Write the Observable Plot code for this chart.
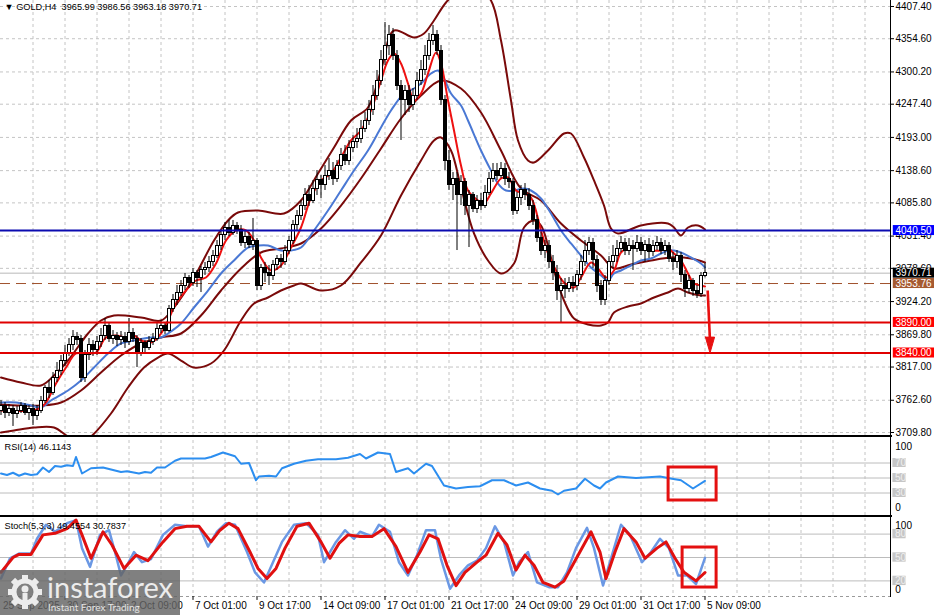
<!DOCTYPE html>
<html><head><meta charset="utf-8">
<script src="https://cdn.jsdelivr.net/npm/d3@7"></script>
<script src="https://cdn.jsdelivr.net/npm/@observablehq/plot@0.6"></script>
<style>
body{margin:0;background:#fff;}
#wrap{position:relative;width:939px;height:615px;overflow:hidden;background:#fff;font-family:"Liberation Sans",Arial,sans-serif;}
#wrap svg.p{position:absolute;left:0;}
svg text{white-space:pre;}
.sep{position:absolute;left:0;width:892px;height:2px;background:#000;}
#axisline{position:absolute;left:890px;top:0;width:1px;height:597px;background:#000;}
#wm{position:absolute;left:0;top:570px;width:180px;height:45px;background:rgba(100,100,100,0.82);}
#wm .t1{position:absolute;left:47px;top:-1px;font-family:Lato,"Open Sans",sans-serif;font-size:29px;color:#ececec;}
#wm .t2{position:absolute;left:48px;top:31px;font-family:Lato,"Open Sans",sans-serif;font-size:10px;color:#e4e4e4;}
#wm svg{position:absolute;left:7px;top:4px;}
</style></head>
<body><div id="wrap"></div>
<script>
// ---------------- DATA ----------------
const header = "GOLD,H4  3965.99 3986.56 3963.18 3970.71";
const candleOpen = [
3745.8,3754.0,3742.5,3749.1,3739.3,3745.8,3752.4,3742.5,3749.1,3737.6,
3745.8,3762.2,3781.9,3775.3,3798.3,3811.3,3827.7,3840.8,3852.3,3867.0,
3863.7,3798.3,3835.9,3852.3,3844.1,3857.2,3868.6,3885.0,3863.7,3868.6,
3860.5,3867.0,3857.2,3873.5,3863.7,3840.8,3855.6,3847.4,3858.8,3863.7,
3880.1,3885.0,3876.8,3912.8,3926.0,3939.0,3950.5,3962.0,3955.4,3971.8,
3962.0,3975.1,3978.4,3988.2,3999.6,4016.0,4032.4,4043.9,4037.3,4047.2,
4040.6,4020.9,4030.7,4017.6,4024.2,3950.5,3978.4,3971.8,3965.3,3983.3,
3994.7,3988.2,4007.8,4024.2,4048.8,4065.1,4081.5,4097.9,4089.7,4109.3,
4122.5,4114.3,4130.6,4138.8,4125.7,4147.0,4163.4,4155.2,4174.9,4184.7,
4191.2,4207.6,4220.7,4237.1,4261.6,4286.2,4319.0,4343.5,4359.9,4327.1,
4278.0,4253.5,4269.8,4245.3,4261.6,4286.2,4302.6,4327.1,4351.7,4359.9,
4335.3,4253.5,4155.2,4114.3,4125.7,4097.9,4119.2,4081.5,4097.9,4076.6,
4089.7,4081.5,4102.8,4125.7,4138.8,4130.6,4142.1,4125.7,4119.2,4073.3,
4093.0,4106.1,4097.9,4081.5,4057.0,4027.5,4007.8,4016.0,3988.2,3971.8,
3942.3,3950.5,3945.6,3955.4,3948.9,3966.9,3988.2,4007.8,4020.9,3991.5,
3950.5,3926.0,3958.7,3988.2,3999.6,4011.1,4020.9,4007.8,4016.0,4011.1,
4020.9,4007.8,4017.6,4004.6,4014.4,4020.9,4007.8,4014.4,3994.7,3988.2,
3999.6,3966.9,3945.6,3958.7,3942.3,3935.8,3965.99];
const candleHigh = [
3762.2,3758.9,3755.7,3754.0,3752.4,3758.9,3757.3,3754.0,3755.7,3754.0,
3768.8,3786.8,3795.0,3808.0,3824.4,3835.9,3852.3,3863.7,3876.8,3873.5,
3868.6,3844.1,3863.7,3860.5,3867.0,3880.1,3896.5,3889.9,3876.8,3873.5,
3875.2,3873.5,3896.5,3880.1,3868.6,3863.7,3860.5,3867.0,3872.0,3888.3,
3893.2,3889.9,3917.8,3935.8,3950.5,3958.7,3970.2,3966.9,3978.4,3975.1,
3981.6,3988.2,3998.0,4007.8,4024.2,4040.6,4053.7,4057.0,4057.0,4053.7,
4048.8,4040.6,4037.3,4060.3,4027.5,3985.0,3988.2,3983.3,3991.5,3999.6,
4001.3,4016.0,4030.7,4057.0,4073.3,4089.7,4109.3,4114.3,4122.5,4138.8,
4130.6,4147.0,4158.5,4151.9,4155.2,4174.9,4179.8,4188.0,4196.1,4207.6,
4220.7,4233.8,4253.5,4278.0,4302.6,4335.3,4381.2,4376.3,4371.4,4335.3,
4286.2,4278.0,4278.0,4273.1,4299.3,4319.0,4343.5,4363.2,4376.3,4368.1,
4343.5,4261.6,4171.6,4135.5,4135.5,4130.6,4125.7,4106.1,4102.8,4097.9,
4101.2,4114.3,4135.5,4150.3,4150.3,4151.9,4150.3,4135.5,4125.7,4102.8,
4114.3,4117.5,4109.3,4089.7,4065.1,4037.3,4024.2,4024.2,3999.6,3983.3,
3962.0,3962.0,3963.6,3965.3,3975.1,3999.6,4024.2,4029.1,4027.5,3999.6,
3958.7,3966.9,3998.0,4016.0,4024.2,4030.7,4027.5,4027.5,4024.2,4032.4,
4029.1,4024.2,4027.5,4024.2,4030.7,4027.5,4024.2,4020.9,4004.6,4007.8,
4004.6,3975.1,3966.9,3962.0,3950.5,3971.8,3986.56];
const candleLow = [
3737.6,3732.7,3736.0,3719.7,3732.7,3740.9,3737.6,3729.5,3721.3,3729.5,
3740.9,3757.3,3765.5,3770.4,3791.7,3803.1,3817.9,3834.3,3844.1,3852.3,
3791.7,3791.7,3827.7,3834.3,3835.9,3849.0,3860.5,3857.2,3854.0,3850.6,
3852.3,3847.4,3852.3,3857.2,3816.2,3834.3,3840.8,3844.1,3852.3,3858.8,
3871.9,3870.3,3873.5,3906.3,3917.8,3932.5,3942.3,3945.6,3948.9,3947.2,
3939.0,3966.9,3971.8,3981.6,3994.7,4007.8,4024.2,4030.7,4032.4,4034.0,
4014.4,4011.1,4011.1,4007.8,3942.3,3942.3,3955.4,3950.5,3958.7,3975.1,
3978.4,3983.3,4001.3,4017.6,4040.6,4057.0,4073.3,4079.9,4084.8,4097.9,
4093.0,4106.1,4122.5,4114.3,4119.2,4138.8,4147.0,4147.0,4168.3,4174.9,
4183.0,4201.0,4212.5,4228.9,4253.5,4278.0,4310.8,4327.1,4319.0,4269.8,
4188.0,4228.9,4233.8,4237.1,4253.5,4278.0,4294.4,4319.0,4343.5,4327.1,
4245.3,4138.8,4106.1,4089.7,4007.8,4081.5,4065.1,4012.7,4070.0,4068.4,
4073.3,4076.6,4097.9,4119.2,4122.5,4125.7,4114.3,4109.3,4065.1,4066.8,
4081.5,4089.7,4073.3,4048.8,4020.9,3999.6,3994.7,3978.4,3958.7,3926.0,
3889.9,3929.2,3939.0,3939.0,3942.3,3958.7,3981.6,3999.6,3978.4,3939.0,
3917.8,3917.8,3950.5,3978.4,3988.2,4004.6,3999.6,3999.6,3975.1,4004.6,
3999.6,3988.2,3994.7,3998.0,4007.8,4001.3,3999.6,3988.2,3975.1,3978.4,
3955.4,3930.9,3937.4,3932.5,3929.2,3930.9,3963.18];
const candleClose = [
3754.0,3742.5,3749.1,3739.3,3745.8,3752.4,3742.5,3749.1,3737.6,3745.8,
3762.2,3781.9,3775.3,3798.3,3811.3,3827.7,3840.8,3852.3,3867.0,3860.5,
3798.3,3835.9,3852.3,3844.1,3857.2,3868.6,3885.0,3863.7,3868.6,3860.5,
3867.0,3857.2,3873.5,3863.7,3840.8,3855.6,3847.4,3858.8,3863.7,3880.1,
3885.0,3876.8,3912.8,3926.0,3939.0,3950.5,3962.0,3955.4,3971.8,3962.0,
3975.1,3978.4,3988.2,3999.6,4016.0,4032.4,4043.9,4037.3,4047.2,4040.6,
4020.9,4030.7,4017.6,4024.2,3950.5,3978.4,3971.8,3965.3,3983.3,3994.7,
3988.2,4007.8,4024.2,4048.8,4065.1,4081.5,4097.9,4089.7,4109.3,4122.5,
4114.3,4130.6,4138.8,4125.7,4147.0,4163.4,4155.2,4174.9,4184.7,4191.2,
4207.6,4220.7,4237.1,4261.6,4286.2,4319.0,4343.5,4359.9,4327.1,4278.0,
4253.5,4269.8,4245.3,4261.6,4286.2,4302.6,4327.1,4351.7,4359.9,4335.3,
4253.5,4155.2,4114.3,4125.7,4097.9,4119.2,4081.5,4097.9,4076.6,4089.7,
4081.5,4102.8,4125.7,4138.8,4130.6,4142.1,4125.7,4119.2,4073.3,4093.0,
4106.1,4097.9,4081.5,4057.0,4027.5,4007.8,4016.0,3988.2,3971.8,3942.3,
3950.5,3945.6,3955.4,3948.9,3966.9,3988.2,4007.8,4020.9,3991.5,3950.5,
3926.0,3958.7,3988.2,3999.6,4011.1,4020.9,4007.8,4016.0,4011.1,4020.9,
4007.8,4017.6,4004.6,4014.4,4020.9,4007.8,4014.4,3994.7,3988.2,3999.6,
3966.9,3945.6,3958.7,3942.3,3935.8,3965.3,3970.71];

const maFast = [[0,3745.8],[7.5,3745.8],[10,3750.7],[11.25,3758.9],[13.75,3790.0],[16.25,3816.2],[18.75,3839.2],[21.25,3839.2],[23.75,3840.8],[26.25,3865.4],[28.75,3868.6],[31.25,3865.4],[33.25,3868.6],[35,3860.5],[37.5,3857.2],[40,3871.9],[41.75,3893.2],[43.75,3921.0],[46.25,3942.3],[48.75,3958.7],[51.25,3963.6],[53.75,3986.5],[56.25,4024.2],[58.75,4040.6],[61.25,4040.6],[63.25,4024.2],[65,3996.4],[67.5,3975.1],[70,3983.3],[72.5,4012.7],[75,4045.5],[77.5,4094.6],[80,4122.5],[82.5,4133.9],[85,4160.1],[87.5,4188.0],[90,4204.3],[92.5,4237.1],[95,4286.2],[96.75,4319.0],[98.25,4330.4],[100,4314.0],[101.75,4281.3],[103.25,4253.5],[105,4264.9],[106.75,4297.7],[108.75,4332.0],[110,4314.0],[111.75,4253.5],[113.25,4204.3],[115,4147.0],[116.75,4106.1],[119.25,4089.7],[120.75,4084.8],[122.5,4101.2],[125,4125.7],[126.75,4127.4],[128.75,4106.1],[130.75,4101.2],[132.5,4094.6],[135,4040.6],[136.75,4002.9],[138.75,3975.1],[140.75,3955.4],[143.25,3947.2],[145,3963.6],[147.5,3988.2],[149.25,3978.4],[151.25,3963.6],[153.25,3975.1],[155,4004.6],[157.5,4012.7],[160,4011.1],[162.5,4007.8],[165,4007.8],[166.75,4011.1],[168.25,4002.9],[170,3991.5],[171.75,3970.2],[173.25,3953.8],[175,3950.5],[176,3948.9]];
const maSlow = [[0,3758.9],[3.75,3758.9],[7.5,3754.0],[10,3750.7],[12.5,3762.2],[16.75,3778.6],[20,3795.0],[23.25,3816.2],[26.75,3839.2],[30,3855.6],[33.25,3860.5],[37.5,3865.4],[40,3865.4],[41.75,3871.9],[45,3888.3],[48.25,3914.5],[51.75,3942.3],[55,3970.2],[58.25,3991.5],[61.75,4012.7],[64.25,4016.0],[66.75,4016.0],[70,4007.8],[72.5,4007.8],[75,4012.7],[78.25,4040.6],[81.75,4073.3],[85,4106.1],[88.25,4138.8],[91.75,4171.6],[95,4209.2],[97.5,4237.1],[100.75,4264.9],[103.25,4273.1],[105,4281.3],[107.5,4297.7],[109.25,4302.6],[110.75,4289.5],[112.5,4264.9],[115,4245.3],[116.75,4220.7],[120,4171.6],[122.5,4138.8],[124.25,4117.5],[126.25,4106.1],[128.25,4106.1],[130.75,4109.3],[132.5,4106.1],[135,4093.0],[137.5,4068.4],[140,4040.6],[142.5,4019.3],[145,3999.6],[147.5,3980.0],[150,3966.9],[151.75,3958.7],[153.25,3970.2],[155,3975.1],[157.5,3983.3],[160,3991.5],[162.5,3994.7],[165,4002.9],[166.75,4007.8],[168.25,4007.8],[170,4004.6],[172.5,3996.4],[175,3986.5],[176,3980.0]];
const bbUpper = [[0,3799.8],[5,3791.7],[10,3786.8],[13.25,3803.1],[16.75,3827.7],[21.75,3871.9],[25,3893.2],[28.25,3901.4],[35,3898.1],[40,3893.2],[43.25,3914.5],[48.25,3963.6],[53.25,4024.2],[56.75,4057.0],[59.25,4070.0],[64.25,4073.3],[70.75,4068.4],[75,4089.7],[79.25,4133.9],[83.25,4176.5],[87.5,4220.7],[91.75,4242.0],[95,4302.6],[98.25,4368.1],[103.25,4356.6],[105.75,4363.2],[108.25,4384.5],[111.25,4413.9],[115,4436.9],[118.75,4440.1],[122.5,4417.2],[125,4351.7],[127.5,4253.5],[129.25,4188.0],[131.75,4155.2],[133.25,4151.9],[136.75,4171.6],[140.75,4199.4],[142.5,4199.4],[145.75,4160.1],[148.25,4122.5],[150.75,4081.5],[152.5,4043.9],[154.25,4035.7],[160,4048.8],[166.75,4052.0],[168.25,4045.5],[170,4032.4],[171.75,4045.5],[174.25,4048.8],[176,4042.3]];
const bbMiddle = [[0,3755.7],[5,3754.0],[10,3754.0],[15,3758.9],[20,3778.6],[25,3808.0],[30,3835.9],[35,3855.6],[40,3865.4],[45,3871.9],[50,3901.4],[55,3942.3],[60,3978.4],[65,4004.6],[70,4011.1],[75,4019.3],[80,4043.9],[85,4081.5],[90,4125.7],[95,4174.9],[100,4224.0],[105,4261.6],[110,4286.2],[115,4273.1],[120,4233.8],[125,4171.6],[130,4109.3],[135,4089.7],[140,4052.0],[145,4024.2],[150,3999.6],[153.25,3978.4],[157.5,3984.9],[162.5,3991.5],[167.5,3996.4],[172.5,3994.7],[176,3988.2]];
const bbLower = [[0,3709.8],[3.25,3713.1],[8.25,3718.0],[13.25,3718.0],[16.75,3703.2],[20,3693.4],[22.5,3703.2],[27.5,3740.9],[31.75,3783.5],[35.75,3816.2],[39.25,3832.6],[41.75,3839.2],[45,3827.7],[48.25,3816.2],[52.5,3822.8],[55.75,3844.1],[60,3893.2],[63.25,3921.0],[66.75,3930.9],[70,3942.3],[73.25,3950.5],[75,3953.8],[80,3942.3],[85,3950.5],[90,3988.2],[95,4032.4],[100,4097.9],[105,4155.2],[108.25,4188.0],[110,4192.9],[112.5,4171.6],[115,4111.0],[118.25,4035.7],[121.75,3991.5],[125,3970.2],[128.25,3986.5],[130.75,4045.5],[133.25,4057.0],[135,4048.8],[136.75,4016.0],[138.25,3975.1],[140.75,3926.0],[143.25,3896.5],[146.75,3886.7],[150,3885.0],[151.75,3889.9],[153.25,3906.3],[156.75,3916.2],[160,3921.0],[163.25,3930.9],[166.75,3939.0],[169.25,3945.6],[171.75,3939.0],[175,3934.1],[176,3934.1]];

const rsi = [[0,56],[1.5,54],[3,57],[4.5,53],[6,56],[7.5,54],[9,55],[10.5,64],[12,58],[13.5,66],[15,65],[16.5,67],[18,66],[18.75,78],[20.25,56],[22.5,63],[25.5,64],[27,62],[30,58],[31.5,59],[34.5,56],[36,58],[37.5,57],[39,64],[41,64],[43.5,73],[45,76],[48,76],[51,76],[52.5,78],[55.5,84],[58.5,79],[60,69],[62,70],[63.75,47],[64.5,52],[67,53],[68.75,52],[70.25,63],[73.25,69],[76.25,73],[79.25,75],[83.75,75],[86.75,77],[89.75,82],[91.25,76],[94.25,84],[97.25,82],[98.75,58],[101.75,63],[103.25,56],[106.25,69],[107.75,66],[110.75,40],[113.75,36],[116.75,38],[119.75,39],[122.75,47],[125.75,47],[128.75,40],[131.75,44],[134.75,36],[137.75,33],[139.25,28],[140.75,33],[143.75,36],[146,49],[148.25,40],[149.75,36],[151.25,44],[154.25,52],[158.75,50],[161.75,51],[164.75,52],[167.75,49],[170,47],[173,36],[176,46.1]];
const stochMain = [[0,23],[2.25,49],[4.5,55],[7.5,55],[9,74],[11.25,92],[13.5,83],[16.5,94],[18.75,98],[20.25,62],[22.25,38],[24.75,79],[27,85],[28.5,57],[30,27],[31.5,40],[33.25,57],[35.25,44],[37.5,48],[40.5,79],[43.5,92],[46.5,90],[49.5,90],[51.75,64],[54,83],[56.25,94],[58.5,92],[61.5,57],[63.5,31],[65.75,18],[68,44],[70.25,70],[73.25,92],[76.25,94],[79.25,79],[80.75,44],[83.75,70],[86,85],[88.25,74],[89.75,83],[92.75,77],[94.5,92],[97.25,83],[99.5,44],[101.75,27],[104,53],[106.25,85],[108.5,85],[110,48],[112.25,10],[114.5,27],[116.75,40],[119,46],[121.25,62],[123.5,90],[125.75,70],[128,27],[129.5,44],[131.75,57],[134,18],[137,12],[139.25,12],[141.5,31],[143.75,62],[146.5,88],[148.25,62],[150.5,14],[152.75,53],[155,92],[157.25,79],[160.25,44],[162.5,57],[164.75,74],[167,62],[169.25,27],[171.5,27],[173.75,16],[176,49.5]];
const stochSignal = [[0,31],[3,50],[4.5,54],[7.5,54],[10.5,79],[13.5,81],[16.5,87],[18.75,98],[20.25,79],[22.5,49],[25.5,83],[27.75,66],[30.75,36],[33.75,53],[36.75,46],[40.5,70],[43.5,87],[46.5,90],[49.5,90],[52.5,70],[54.75,85],[57,94],[59.25,87],[62.25,57],[64.25,36],[66.5,23],[68.75,36],[71,62],[74,90],[77,94],[80,70],[82.25,49],[84.5,68],[86.75,79],[89.75,77],[92.75,77],[95.75,87],[98.75,64],[101.75,31],[104.75,57],[107,79],[109.25,74],[111.5,40],[113.75,14],[116,31],[119,44],[121.25,53],[124.25,81],[126.5,66],[128.75,34],[131,53],[133.25,40],[135.5,18],[138.5,12],[140.75,20],[143.75,48],[147.5,83],[149.75,57],[151.25,23],[153.5,57],[155.75,87],[158.75,70],[161,49],[164,62],[166.25,70],[168.5,49],[170.75,31],[173.75,20],[176,30.8]];

const priceTicks = [4407.40,4354.60,4300.20,4247.40,4193.00,4138.60,4085.80,4031.40,3978.60,3924.20,3869.80,3817.00,3762.60,3709.80];
const levelPrices = [4040.50, 3890.00, 3840.00];
const levelLineColors = ["#0b0bb0", "#e00000", "#e00000"];
const levelBoxColors = ["#0000ff", "#ff0000", "#ff0000"];
const bidPrice = 3970.71;
const avgPrice = 3953.76;
const targetArrow = {fromI: 176.67, fromP: 3942.3, toI: 177.25, toP: 3840.0};
const rsiLevels = [70, 50, 30];
const stochLevels = [80, 50, 20];
const rsiBox = {i1: 166.9, i2: 178.9, v1: 20, v2: 64};
const stochBox = {i1: 170.4, i2: 178.9, v1: 11.5, v2: 62.8};
const timeIdx = [0,16,32,48,64,80,96,112,128,144,160,176];
const timeLabels = ["25 Sep 2025","30 Sep 17:00","2 Oct 09:00","7 Oct 01:00","9 Oct 17:00","14 Oct 09:00","17 Oct 01:00","21 Oct 17:00","24 Oct 09:00","29 Oct 01:00","31 Oct 17:00","5 Nov 09:00"];
const rsiTitle = "RSI(14) 46.1143";
const stochTitle = "Stoch(5,3,3) 49.4554 30.7837";

// ---------------- CHART ----------------
const FONT = "'Liberation Sans', Arial, sans-serif";
const W = 939, MR = 49;
const xDomain = [-0.125, 222.375];
const gridIdx = d3.range(8, 222, 8);
const AX = 222.375;
const GRID = {stroke: "#c4c4c4", strokeDasharray: "3,3", strokeWidth: 1};

function panel(top, h, mt, mb, ydom, marks) {
  const svg = Plot.plot({
    width: W, height: h, marginLeft: 0, marginRight: MR, marginTop: mt, marginBottom: mb,
    x: {domain: xDomain, axis: null}, y: {domain: ydom, axis: null},
    style: {background: "transparent", fontFamily: FONT, fontSize: "10px", overflow: "visible", color: "#000"},
    marks
  });
  svg.classList.add("p");
  svg.style.top = top + "px";
  return svg;
}

const candles = candleOpen.map((o, i) => ({i, o, h: candleHigh[i], l: candleLow[i], c: candleClose[i]}));
const levels = levelPrices.map((p, k) => ({p, line: levelLineColors[k], box: levelBoxColors[k]}));
const boxes = [
  ...levels.map(d => ({p: d.p, bg: d.box})),
  {p: bidPrice, bg: "#000000"},
  {p: avgPrice, bg: "#a65a30"}
];
const headPts = [
  [targetArrow.toI - 1.15, targetArrow.toP + 26],
  [targetArrow.toI + 1.15, targetArrow.toP + 26],
  [targetArrow.toI, targetArrow.toP],
  [targetArrow.toI - 1.15, targetArrow.toP + 26]
];
const L = (data, stroke, w) => Plot.line(data, {x: d => d[0], y: d => d[1], stroke, strokeWidth: w, curve: "catmull-rom", clip: true});

const mainSvg = panel(0, 436, 0, 1, [3704.9, 4417.2], [
  Plot.ruleY(priceTicks, GRID),
  Plot.ruleX(gridIdx, GRID),
  Plot.ruleY([bidPrice], {stroke: "#b8b8b8", strokeWidth: 1}),
  Plot.ruleY([avgPrice], {stroke: "#a0522d", strokeDasharray: "10,6", strokeWidth: 1}),
  L(bbUpper, "#7a0a0a", 2),
  L(bbLower, "#7a0a0a", 2),
  L(bbMiddle, "#7a0a0a", 2),
  L(maSlow, "#4a78d4", 2),
  L(maFast, "#ee1111", 2),
  Plot.ruleX(candles, {x: "i", y1: "l", y2: "h", stroke: "#000", strokeWidth: 1}),
  Plot.rect(candles, {x1: d => d.i - 0.375, x2: d => d.i + 0.375, y1: "o", y2: "c",
    fill: d => d.c >= d.o ? "#fff" : "#000", stroke: "#000", strokeWidth: 1, shapeRendering: "crispEdges"}),
  Plot.ruleY(levels, {y: "p", stroke: "line", strokeWidth: 2}),
  Plot.link([targetArrow], {x1: "fromI", y1: "fromP", x2: "toI", y2: d => d.toP + 20, stroke: "#e81010", strokeWidth: 2.6}),
  Plot.line(headPts, {x: d => d[0], y: d => d[1], fill: "#e81010", stroke: "#e81010", strokeWidth: 1}),
  Plot.axisY({anchor: "right", ticks: priceTicks, tickFormat: d => d.toFixed(2), tickSize: 3, tickPadding: 2, label: null, fontSize: 10}),
  Plot.rect(boxes, {x1: AX + 0.7, x2: AX + 11, y1: d => d.p - 8.2, y2: d => d.p + 8.2, fill: "bg"}),
  Plot.text(boxes, {x: AX + 1, y: "p", text: d => d.p.toFixed(2), fill: "#fff", textAnchor: "start", dx: 1, fontSize: 10}),
  Plot.text([header], {frameAnchor: "top-left", text: d => "\u25BC " + d, dx: 4, dy: 3, textAnchor: "start", fontSize: 9.2, fill: "#000"})
]);

const rsiSvg = panel(436, 80, 4, 1, [0, 100], [
  Plot.ruleX(gridIdx, GRID),
  Plot.ruleY(rsiLevels, {stroke: "#bcbcbc", strokeWidth: 1}),
  Plot.line(rsi, {x: d => d[0], y: d => d[1], stroke: "#2c8ef0", strokeWidth: 2}),
  Plot.rect([rsiBox], {x1: "i1", x2: "i2", y1: "v1", y2: "v2", fill: "none", stroke: "#e41010", strokeWidth: 3}),
  Plot.rect(rsiLevels, {x1: AX + 0.6, x2: AX + 3.9, y1: d => d - 6, y2: d => d + 6, fill: "#c6c6c6"}),
  Plot.text(rsiLevels, {x: AX + 1.1, y: d => d, text: d => String(d), fill: "#eeeeee", textAnchor: "start", fontSize: 10}),
  Plot.text([100], {x: AX + 1.2, y: d => d, text: d => String(d), dy: 6, textAnchor: "start", fontSize: 10}),
  Plot.text([0], {x: AX + 1.2, y: d => d, text: d => String(d), dy: -8, textAnchor: "start", fontSize: 10}),
  Plot.text([rsiTitle], {frameAnchor: "top-left", dx: 4, dy: 3, textAnchor: "start", fontSize: 9.2})
]);

const timeTicks = timeIdx.map((i, k) => ({i, label: timeLabels[k]}));
const stochSvg = panel(516, 99, 2, 19, [0, 100], [
  Plot.ruleX(gridIdx, GRID),
  Plot.ruleY(stochLevels, {stroke: "#bcbcbc", strokeWidth: 1}),
  Plot.ruleY([0], {stroke: "#9a9a9a", strokeDasharray: "3,3"}),
  Plot.line(stochMain, {x: d => d[0], y: d => d[1], stroke: "#6b98e4", strokeWidth: 2.5}),
  Plot.line(stochSignal, {x: d => d[0], y: d => d[1], stroke: "#e01010", strokeWidth: 3}),
  Plot.rect([stochBox], {x1: "i1", x2: "i2", y1: "v1", y2: "v2", fill: "none", stroke: "#e41010", strokeWidth: 3}),
  Plot.rect(stochLevels, {x1: AX + 0.6, x2: AX + 3.9, y1: d => d - 6, y2: d => d + 6, fill: "#c6c6c6"}),
  Plot.text(stochLevels, {x: AX + 1.1, y: d => d, text: d => String(d), fill: "#eeeeee", textAnchor: "start", fontSize: 10}),
  Plot.text([100], {x: AX + 1.2, y: d => d, text: d => String(d), dy: 7, textAnchor: "start", fontSize: 10}),
  Plot.text([0], {x: AX + 1.2, y: d => d, text: d => String(d), dy: -7, textAnchor: "start", fontSize: 10}),
  Plot.ruleX(timeTicks.slice(1), {x: "i", y1: 0, y2: -5, stroke: "#000"}),
  Plot.text(timeTicks, {x: "i", y: -11.5, text: "label", textAnchor: "start", dx: 2, fontSize: 10}),
  Plot.text([stochTitle], {frameAnchor: "top-left", dx: 4, dy: 4, textAnchor: "start", fontSize: 9.2})
]);

const wrap = document.getElementById("wrap");
wrap.append(mainSvg, rsiSvg, stochSvg);
for (const t of [435, 515]) {
  const s = document.createElement("div"); s.className = "sep"; s.style.top = t + "px"; wrap.append(s);
}
const ax = document.createElement("div"); ax.id = "axisline"; wrap.append(ax);

const wm = document.createElement("div"); wm.id = "wm";
wm.innerHTML = `<svg width="36" height="36" viewBox="-18 -18 36 36">
  <g fill="#ececec">${d3.range(8).map(k => `<rect x="-3" y="-17" width="6" height="8" transform="rotate(${k*45})"/>`).join("")}</g>
  <circle r="11" fill="none" stroke="#ececec" stroke-width="5"/>
  <circle r="3.5" cy="-3" fill="#ececec"/><rect x="-2.5" y="1" width="5" height="9" fill="#ececec"/>
</svg><div class="t1">instaforex</div><div class="t2">Instant Forex Trading</div>`;
wrap.append(wm);
</script>
</body></html>
